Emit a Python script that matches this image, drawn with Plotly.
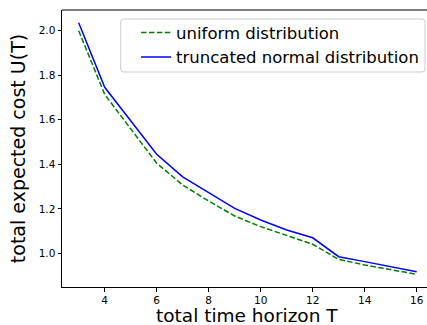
import plotly.graph_objects as go

T = [3, 4, 6, 7, 8, 9, 10, 11, 12, 13, 14, 16]
uniform = [2.000, 1.714, 1.405, 1.307, 1.235, 1.168, 1.120, 1.079, 1.041, 0.973, 0.948, 0.906]
trunc_normal = [2.036, 1.746, 1.445, 1.344, 1.273, 1.202, 1.150, 1.105, 1.070, 0.985, 0.963, 0.918]

y_ticks = [1.0, 1.2, 1.4, 1.6, 1.8, 2.0]
x_ticks = [4, 6, 8, 10, 12, 14, 16]

font = "DejaVu Sans"

# legend frame (rounded rectangle) in paper coordinates
W, H = 365.0, 277.0
x0, x1 = (120.7 - 62) / W, (425 - 62) / W
y1, y0 = (287 - 19) / H, (287 - 72) / H
rx, ry = 3 / W, 3 / H
frame = (f"M {x0+rx},{y1} L {x1-rx},{y1} Q {x1},{y1} {x1},{y1-ry} "
         f"L {x1},{y0+ry} Q {x1},{y0} {x1-rx},{y0} "
         f"L {x0+rx},{y0} Q {x0},{y0} {x0},{y0+ry} "
         f"L {x0},{y1-ry} Q {x0},{y1} {x0+rx},{y1} Z")

fig = go.Figure()
fig.add_trace(go.Scatter(x=T, y=uniform, mode="lines", name="uniform distribution",
                         line=dict(color="green", width=1.5, dash="5.5px,2.4px")))
fig.add_trace(go.Scatter(x=T, y=trunc_normal, mode="lines", name="truncated normal distribution",
                         line=dict(color="blue", width=1.5)))

fig.update_layout(
    width=427, height=325,
    margin=dict(l=62, r=0, t=10, b=38),
    paper_bgcolor="white", plot_bgcolor="white",
    font=dict(family=font, color="black"),
    showlegend=True,
    legend=dict(x=0.992, y=0.981, xanchor="right", yanchor="top",
                bgcolor="rgba(0,0,0,0)", borderwidth=0,
                font=dict(size=16.5, family=font), tracegroupgap=0, itemwidth=30),
    xaxis=dict(range=[2.358, 16.396], tickvals=x_ticks, ticks="outside", ticklen=3.5,
               tickcolor="black", showline=True, linecolor="black", linewidth=1,
               showgrid=False, zeroline=False, tickfont=dict(size=10.5, family=font)),
    yaxis=dict(range=[0.849, 2.093], tickvals=y_ticks, tickformat=".1f", ticks="outside", ticklen=3.5,
               tickcolor="black", showline=True, linecolor="black", linewidth=1,
               showgrid=False, zeroline=False, tickfont=dict(size=10.5, family=font),
               title=dict(text="total expected cost U(T)", font=dict(size=19, family=font), standoff=8)),
    shapes=[dict(type="line", xref="paper", yref="paper", x0=0, x1=1, y0=1, y1=1,
                 line=dict(color="black", width=1)),
            dict(type="path", xref="paper", yref="paper", path=frame,
                 fillcolor="rgba(255,255,255,0.8)", line=dict(color="#cccccc", width=1))],
    annotations=[dict(text="total time horizon T", xref="paper", yref="paper", x=0.5, y=0,
                      xanchor="center", yanchor="bottom", xshift=2, yshift=-41, showarrow=False,
                      font=dict(size=18.5, family=font))],
)

fig.write_html("out.html")
